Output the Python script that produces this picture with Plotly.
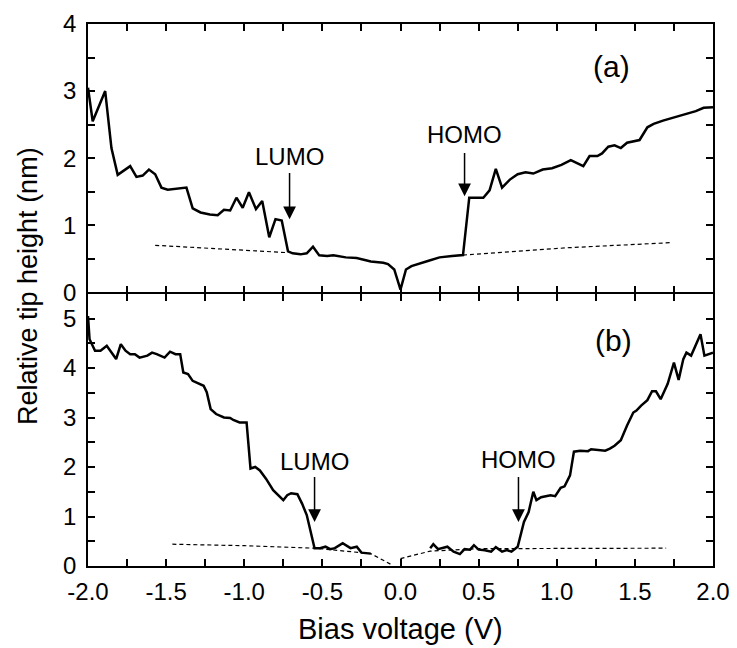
import plotly.graph_objects as go

# ---- data ----
a_x = [-2.0, -1.97, -1.89, -1.85, -1.81, -1.77, -1.73, -1.69, -1.65, -1.61, -1.57, -1.53, -1.49, -1.37,
       -1.33, -1.28, -1.22, -1.17, -1.13, -1.09, -1.05, -1.01, -0.97, -0.925, -0.885, -0.84, -0.80, -0.76,
       -0.72, -0.69, -0.64, -0.60, -0.56, -0.52, -0.47, -0.43, -0.35, -0.28, -0.19, -0.11, -0.08, -0.04,
       0.0, 0.035, 0.07, 0.18, 0.25, 0.33, 0.40, 0.44, 0.53, 0.57, 0.61, 0.65, 0.70, 0.75, 0.80, 0.85,
       0.91, 0.97, 1.03, 1.09, 1.17, 1.21, 1.26, 1.29, 1.33, 1.37, 1.41, 1.45, 1.49, 1.53, 1.58, 1.62,
       1.68, 1.77, 1.86, 1.89, 1.94, 2.0]
a_y = [3.05, 2.55, 3.0, 2.15, 1.75, 1.82, 1.88, 1.72, 1.74, 1.83, 1.76, 1.56, 1.53, 1.56,
       1.25, 1.19, 1.16, 1.15, 1.23, 1.22, 1.41, 1.26, 1.49, 1.24, 1.36, 0.82, 1.09, 1.07,
       0.61, 0.58, 0.565, 0.58, 0.68, 0.55, 0.54, 0.55, 0.52, 0.51, 0.46, 0.44, 0.42, 0.34,
       0.04, 0.34, 0.39, 0.47, 0.52, 0.54, 0.555, 1.41, 1.41, 1.52, 1.84, 1.56, 1.68, 1.76, 1.79, 1.77,
       1.83, 1.85, 1.90, 1.97, 1.88, 2.03, 2.03, 2.07, 2.17, 2.19, 2.15, 2.23, 2.25, 2.27, 2.46, 2.51,
       2.56, 2.62, 2.69, 2.70, 2.75, 2.76]

a_dash_left_x = [-1.57, -1.15, -0.72]
a_dash_left_y = [0.70, 0.65, 0.59]
a_dash_right_x = [0.40, 1.08, 1.735]
a_dash_right_y = [0.555, 0.665, 0.74]

b_left_x = [-2.0, -1.99, -1.955, -1.92, -1.88, -1.82, -1.79, -1.76, -1.73, -1.70, -1.67, -1.62, -1.59,
            -1.56, -1.51, -1.475, -1.44, -1.41, -1.39, -1.36, -1.33, -1.28, -1.26, -1.24, -1.215, -1.18,
            -1.13, -1.09, -1.07, -1.03, -0.985, -0.96, -0.93, -0.90, -0.86, -0.815, -0.78, -0.75, -0.725,
            -0.70, -0.66, -0.63, -0.60, -0.55, -0.515, -0.48, -0.45, -0.42, -0.37, -0.32, -0.28, -0.25, -0.19]
b_left_y = [5.05, 4.58, 4.35, 4.35, 4.45, 4.18, 4.48, 4.35, 4.28, 4.28, 4.21, 4.25, 4.31,
            4.28, 4.21, 4.33, 4.28, 4.28, 3.91, 3.88, 3.74, 3.68, 3.64, 3.51, 3.17, 3.07,
            3.0, 2.99, 2.95, 2.90, 2.90, 1.97, 2.0, 1.93, 1.76, 1.53, 1.43, 1.33, 1.43,
            1.47, 1.45, 1.26, 1.03, 0.36, 0.36, 0.39, 0.34, 0.36, 0.46, 0.36, 0.39, 0.27, 0.25]
b_right_x = [0.19, 0.21, 0.24, 0.30, 0.34, 0.38, 0.41, 0.445, 0.47, 0.50, 0.54, 0.58, 0.61, 0.65, 0.68,
             0.71, 0.75, 0.79, 0.82, 0.85, 0.87, 0.90, 0.96, 0.99, 1.025, 1.05, 1.085, 1.11, 1.15, 1.20,
             1.22, 1.27, 1.31, 1.34, 1.37, 1.41, 1.45, 1.49, 1.51, 1.54, 1.58, 1.61, 1.635, 1.665, 1.71,
             1.75, 1.78, 1.81, 1.83, 1.86, 1.92, 1.945, 2.0]
b_right_y = [0.36, 0.44, 0.34, 0.39, 0.29, 0.24, 0.34, 0.33, 0.42, 0.33, 0.32, 0.29, 0.38, 0.29, 0.32,
             0.29, 0.39, 0.89, 1.09, 1.50, 1.33, 1.39, 1.43, 1.41, 1.58, 1.61, 1.83, 2.31, 2.33, 2.32,
             2.36, 2.35, 2.33, 2.37, 2.43, 2.54, 2.84, 3.10, 3.14, 3.24, 3.35, 3.53, 3.53, 3.37, 3.68,
             4.11, 3.76, 4.18, 4.31, 4.25, 4.68, 4.25, 4.31]

b_dash_left_x = [-1.46, -1.0, -0.55, -0.19, -0.06]
b_dash_left_y = [0.44, 0.41, 0.36, 0.25, 0.03]
b_dash_right_x = [0.0, 0.19, 0.5, 1.0, 1.70]
b_dash_right_y = [0.15, 0.30, 0.35, 0.36, 0.36]

x_tickvals = [-2.0, -1.75, -1.5, -1.25, -1.0, -0.75, -0.5, -0.25, 0.0, 0.25, 0.5, 0.75, 1.0, 1.25, 1.5, 1.75, 2.0]
x_ticktext = ["-2.0", "", "-1.5", "", "-1.0", "", "-0.5", "", "0.0", "", "0.5", "", "1.0", "", "1.5", "", "2.0"]
ya_tickvals = [0, 0.5, 1, 1.5, 2, 2.5, 3, 3.5, 4]
ya_ticktext = ["0", "", "1", "", "2", "", "3", "", "4"]
yb_tickvals = [0, 0.5, 1, 1.5, 2, 2.5, 3, 3.5, 4, 4.5, 5]
yb_ticktext = ["0", "", "1", "", "2", "", "3", "", "4", "", "5"]

# (label, x, text y, arrow start y, arrow tip y, panel)
markers = [
    ("LUMO", -0.71, 2.02, 1.80, 1.09, "a"),
    ("HOMO", 0.41, 2.35, 2.10, 1.43, "a"),
    ("LUMO", -0.55, 2.12, 1.83, 0.89, "b"),
    ("HOMO", 0.755, 2.15, 1.83, 0.89, "b"),
]
panel_labels = [("(a)", 1.35, 3.37, "a"), ("(b)", 1.36, 4.55, "b")]

FONT = "Liberation Sans, Arial, sans-serif"
axref = {"a": ("x", "y"), "b": ("x2", "y2")}

fig = go.Figure()
solid = dict(color="black", width=2.5)
dash = dict(color="black", width=1.2, dash="4px,3px")

fig.add_trace(go.Scatter(x=a_x, y=a_y, mode="lines", line=solid, xaxis="x", yaxis="y"))
fig.add_trace(go.Scatter(x=a_dash_left_x, y=a_dash_left_y, mode="lines", line=dash, xaxis="x", yaxis="y"))
fig.add_trace(go.Scatter(x=a_dash_right_x, y=a_dash_right_y, mode="lines", line=dash, xaxis="x", yaxis="y"))
fig.add_trace(go.Scatter(x=b_dash_left_x, y=b_dash_left_y, mode="lines", line=dash, xaxis="x2", yaxis="y2"))
fig.add_trace(go.Scatter(x=b_dash_right_x, y=b_dash_right_y, mode="lines", line=dash, xaxis="x2", yaxis="y2"))
fig.add_trace(go.Scatter(x=b_left_x, y=b_left_y, mode="lines", line=solid, xaxis="x2", yaxis="y2"))
fig.add_trace(go.Scatter(x=b_right_x, y=b_right_y, mode="lines", line=solid, xaxis="x2", yaxis="y2"))

# page body has an 8px margin: figure is 729x640 placed at (8, 8)
PH = 542.0
split = 273.0 / PH
half = 0.75 / PH
common_ax = dict(showline=True, linecolor="black", linewidth=1.5, mirror="ticks", ticks="inside",
                 ticklen=7, tickwidth=1.5, tickcolor="black", showgrid=False, zeroline=False,
                 tickfont=dict(family=FONT, size=24, color="black"))

fig.update_layout(
    width=729, height=640,
    margin=dict(l=80, r=24, t=16, b=82, autoexpand=False),
    paper_bgcolor="white", plot_bgcolor="white",
    showlegend=False,
    xaxis=dict(common_ax, range=[-2, 2], anchor="y", tickvals=x_tickvals, ticktext=x_ticktext,
               showticklabels=False, matches="x2"),
    yaxis=dict(common_ax, range=[0, 4], domain=[split + half, 1], tickvals=ya_tickvals,
               ticktext=ya_ticktext, ticklabelstandoff=5),
    xaxis2=dict(common_ax, range=[-2, 2], anchor="y2", tickvals=x_tickvals, ticktext=x_ticktext,
                ticklabelstandoff=3),
    yaxis2=dict(common_ax, range=[0, 5.5], domain=[0, split - half], tickvals=yb_tickvals,
                ticktext=yb_ticktext, ticklabelstandoff=5),
)

annotations = []
for label, x, ty, y0, y1, p in markers:
    xr, yr = axref[p]
    annotations.append(dict(x=x, y=y1, ax=x, ay=y0, xref=xr, yref=yr, axref=xr, ayref=yr,
                            text="", showarrow=True, arrowhead=2, arrowsize=1.7, arrowwidth=1.5,
                            arrowcolor="black", standoff=0, startstandoff=0))
    annotations.append(dict(x=x, y=ty, xref=xr, yref=yr, text=label, showarrow=False,
                            xanchor="center", yanchor="middle",
                            font=dict(family=FONT, size=24, color="black")))
for label, x, y, p in panel_labels:
    xr, yr = axref[p]
    annotations.append(dict(x=x, y=y, xref=xr, yref=yr, text=label, showarrow=False,
                            xanchor="center", yanchor="middle",
                            font=dict(family=FONT, size=30, color="black")))
annotations.append(dict(x=0.5, y=-0.116, xref="paper", yref="paper", text="Bias voltage (V)",
                        showarrow=False, xanchor="center", yanchor="middle",
                        font=dict(family=FONT, size=29, color="black")))
annotations.append(dict(x=-0.096, y=0.5166, xref="paper", yref="paper", text="Relative tip height (nm)",
                        showarrow=False, xanchor="center", yanchor="middle", textangle=-90,
                        font=dict(family=FONT, size=27, color="black")))
fig.update_layout(annotations=annotations)

fig.write_html("out.html")
